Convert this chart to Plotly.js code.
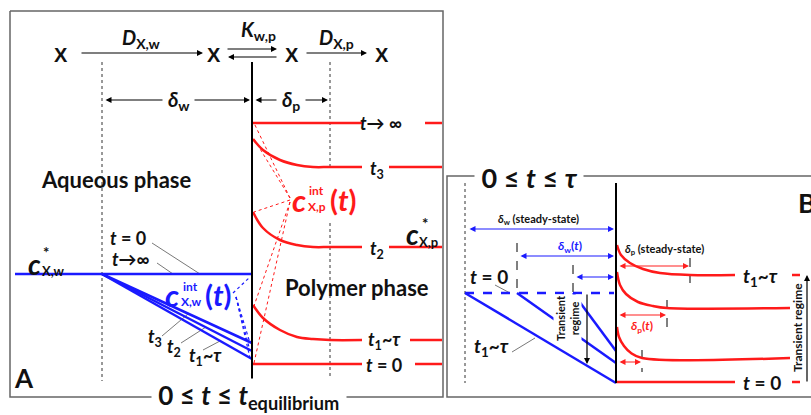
<!DOCTYPE html>
<html><head><meta charset="utf-8">
<script src="https://cdn.plot.ly/plotly-3.0.1.min.js"></script>
<style>html,body{margin:0;padding:0;background:#fff}#chart{width:811px;height:415px}</style>
</head><body><div id="chart"></div>
<script>
// ================= DATA (diagram coordinates) =================
// Frames
const frameAX = [10, 443, 443, 10, 10], frameAY = [11, 11, 397, 397, 11];
const frameBX = [811, 447, 447, 811],   frameBY = [176, 176, 397, 397];

// ---- Panel A ----
const aInterfaceX = [252, 252], aInterfaceY = [62, 381];
const aGuideX = [102, 102, null, 330, 330, null, 330, 330];
const aGuideY = [62, 381, null, 62, 167, null, 223, 381];

// aqueous phase profiles (blue)
const aqBulkX = [15, 252], aqBulkY = [274, 274];            // t = 0 and t→∞
const aqGradX = [102, 252];
const aqGradY = { t3: [274, 343], t2: [274, 351], t1: [274, 359] };
const aqIntDotX = [233, 250, null, 236, 250, null, 236, 250, null, 236, 250];
const aqIntDotY = [293, 277, null, 297, 343, null, 297, 351, null, 297, 358];

// polymer phase profiles (red)
const pInfX = [253, 362], pInfY = [123, 123];
const pCurveX = [253, 263, 280, 297, 313, 330, 362];
const pT3Y = [139, 150, 160, 165, 167, 167, 167];
const pT2Y = [212, 228, 240, 245, 247, 247, 247];
const pT1Y = [305, 318, 330, 337, 339, 340, 340];
const pT0X = [253, 362], pT0Y = [364, 364];
const pTailX = [425, 442, null, 389, 442, null, 389, 442, null, 410, 442, null, 415, 442];
const pTailY = [123, 123, null, 167, 167, null, 247, 247, null, 340, 340, null, 364, 364];
const pIntDotX = [290, 254, null, 290, 254, null, 290, 254, null, 290, 254, null, 290, 254];
const pIntDotY = [198, 123, null, 198, 139, null, 200, 212, null, 202, 306, null, 202, 363];

// leader lines
const aLeadX = [152, 200, null, 157, 173, null, 162, 188, null, 181, 206, null, 203, 220];
const aLeadY = [243, 274, null, 263, 274, null, 336, 314, null, 343, 327, null, 350, 341];

// ---- Panel B ----
const bInterfaceX = [616, 616], bInterfaceY = [183, 383];
const bGuideX = [465, 465], bGuideY = [183, 383];
const bDashBlueX = [465, 614], bDashBlueY = [293, 293];
const bBlueX = [465, 616, null, 517, 616, null, 573, 616];
const bBlueY = [293, 383, null, 293, 363, null, 293, 351];
const bVDashX = [517, 517, null, 573, 573, null, 690, 690, null, 667, 667, null, 642, 642];
const bVDashY = [243, 293, null, 265, 293, null, 258, 283, null, 300, 330, null, 350, 372];
const bC1X = [617, 621, 630, 643, 660, 690, 735], bC1Y = [245, 255, 263, 269, 273, 275, 275];
const bC2X = [617, 620, 626, 638, 653, 667, 790], bC2Y = [272, 285, 294, 302, 306, 308, 308];
const bC3X = [617, 619, 624, 631, 642, 790],      bC3Y = [327, 337, 346, 353, 358, 358];
const bT0X = [616, 735], bT0Y = [382, 382];
const bTailX = [792, 800, null, 792, 800], bTailY = [275, 275, null, 382, 382];
const bLeadX = [495, 510, null, 512, 535], bLeadY = [285, 293, null, 352, 338];

// arrows: [x0, y0, x1, y1, colour, double]
const arrows = [
  [80, 53, 203, 53, '#000', false],
  [226, 49, 277, 49, '#000', false],
  [278, 57, 228, 57, '#000', false],
  [305, 53, 367, 53, '#000', false],
  [104, 100, 250, 100, '#000', true],
  [254, 100, 328, 100, '#000', true],
  [468, 229, 614, 229, '#1a1aff', true],
  [519, 256, 614, 256, '#1a1aff', true],
  [575, 277, 614, 277, '#1a1aff', true],
  [618, 266, 689, 266, '#ff2020', true],
  [618, 315, 666, 315, '#ff2020', true],
  [618, 362, 641, 362, '#ff2020', true],
  [587, 293, 587, 364, '#000', false],
  [807, 383, 807, 275, '#000', false]
];

// ================= BUILD =================
const BLUE = '#1a1aff', RED = '#ff1a1a';
function L(x, y, color, width, dash, shape) {
  return { x, y, type: 'scatter', mode: 'lines', hoverinfo: 'skip',
    line: { color, width, dash: dash || 'solid', shape: shape || 'linear' } };
}
const traces = [
  L(frameAX, frameAY, '#666', 1.5), L(frameBX, frameBY, '#666', 1.5),
  L(aGuideX, aGuideY, '#333', 1, 'dot'),
  L(aLeadX, aLeadY, '#555', 0.8),
  L(aqBulkX, aqBulkY, BLUE, 2.5),
  L(aqGradX, aqGradY.t3, BLUE, 2.5), L(aqGradX, aqGradY.t2, BLUE, 2.5), L(aqGradX, aqGradY.t1, BLUE, 2.5),
  L(aqIntDotX, aqIntDotY, BLUE, 1.2, 'dot'),
  L(pIntDotX, pIntDotY, RED, 1, 'dot'),
  L(pInfX, pInfY, RED, 2.5),
  L(pCurveX, pT3Y, RED, 2.5, 'solid', 'spline'),
  L(pCurveX, pT2Y, RED, 2.5, 'solid', 'spline'),
  L(pCurveX, pT1Y, RED, 2.5, 'solid', 'spline'),
  L(pT0X, pT0Y, RED, 2.5),
  L(pTailX, pTailY, RED, 2.5),
  L(aInterfaceX, aInterfaceY, '#000', 2),
  // panel B
  L(bGuideX, bGuideY, '#333', 1, 'dot'),
  L(bVDashX, bVDashY, '#000', 1, 'dash'),
  L(bLeadX, bLeadY, '#555', 0.8),
  L(bDashBlueX, bDashBlueY, BLUE, 2.5, 'dash'),
  L(bBlueX, bBlueY, BLUE, 2.5),
  L(bC1X, bC1Y, RED, 2.5, 'solid', 'spline'),
  L(bC2X, bC2Y, RED, 2.5, 'solid', 'spline'),
  L(bC3X, bC3Y, RED, 2.5, 'solid', 'spline'),
  L(bT0X, bT0Y, RED, 2.5),
  L(bTailX, bTailY, RED, 2.5),
  L(bInterfaceX, bInterfaceY, '#000', 2)
];

const F = 'Lato, "Open Sans", sans-serif';
function T(x, y, text, size, color, extra) {
  return Object.assign({ x, y, xref: 'x', yref: 'y', text: '<b>' + text + '</b>', showarrow: false,
    font: { family: F, size, color: color || '#111' }, xanchor: 'center', yanchor: 'middle', borderpad: 0 }, extra || {});
}
const W = { bgcolor: '#fff' };
const XF = { font: { family: 'Liberation Sans, Arial', size: 20, color: '#111' } };
const ann = arrows.map(a => ({
  x: a[2], y: a[3], ax: a[0], ay: a[1], xref: 'x', yref: 'y', axref: 'x', ayref: 'y', text: '',
  showarrow: true, arrowhead: 2, arrowsize: 1, arrowwidth: 1.2, arrowcolor: a[4],
  arrowside: a[5] ? 'end+start' : 'end', startarrowhead: 2, startarrowsize: 1, standoff: 0, startstandoff: 0
}));
ann.push(
  // Panel A header
  T(61, 55, 'X', 20, '#111', XF),
  T(214, 55, 'X', 20, '#111', XF),
  T(292, 55, 'X', 20, '#111', XF),
  T(382, 55, 'X', 20, '#111', XF),
  T(141, 38, '<i>D</i><sub>X,w</sub>', 20),
  T(258, 30, '<i>K</i><sub>w,p</sub>', 20),
  T(336, 38, '<i>D</i><sub>X,p</sub>', 20),
  T(178, 100, ' <i>δ</i><sub>w</sub> ', 20, '#111', W),
  T(291, 100, ' <i>δ</i><sub>p</sub> ', 20, '#111', W),
  // polymer labels
  T(381, 123, '<i>t</i>→ ∞', 18),
  T(377, 169, '<i>t</i><sub>3</sub>', 18),
  T(377, 249, '<i>t</i><sub>2</sub>', 18),
  T(384, 340, '<i>t</i><sub>1</sub>~<i>τ</i>', 18),
  T(384, 365, '<i>t</i> = 0', 18),
  T(412, 234, '<i>c</i>', 28),
  T(425, 223, '*', 15),
  T(428, 242, 'X,p', 13),
  T(116, 179, 'Aqueous phase', 22),
  T(357, 287, 'Polymer phase', 22),
  // aqueous labels
  T(34, 264, '<i>c</i>', 28),
  T(46, 252, '*', 15),
  T(53, 271, 'X,w', 13),
  T(128, 238, '<i>t</i> = 0', 18),
  T(131, 259, '<i>t</i>→∞', 18),
  T(155, 337, '<i>t</i><sub>3</sub>', 18),
  T(174, 347, '<i>t</i><sub>2</sub>', 18),
  T(205, 356, '<i>t</i><sub>1</sub>~<i>τ</i>', 18),
  // interfacial concentrations
  T(172, 295, '<i>c</i>', 31, BLUE),
  T(190, 286, 'int', 12, BLUE),
  T(191, 301, 'X,w', 12, BLUE),
  T(218, 294, '(<i>t</i>)', 29, BLUE),
  T(299, 200, '<i>c</i>', 31, RED, W),
  T(316, 190, 'int', 12, RED, W),
  T(317, 206, 'X,p', 12, RED, W),
  T(343, 199, '(<i>t</i>)', 29, RED, W),
  T(24, 378, 'A', 26, '#111'),
  T(249, 396, ' 0 ≤ <i>t</i> ≤ <i>t</i><sub>equilibrium</sub> ', 26, '#111', W),
  // Panel B
  T(529, 177, ' 0 ≤ <i>t</i> ≤ <i>τ</i> ', 27, '#111', W),
  T(797, 202, 'B', 27, '#111', { xanchor: 'left' }),
  T(538, 219, '<i>δ</i><sub>w</sub> (steady-state)', 11),
  T(570, 246, '<i>δ</i><sub>w</sub>(<i>t</i>)', 12, BLUE),
  T(664, 249, '<i>δ</i><sub>p</sub> (steady-state)', 11),
  T(642, 326, '<i>δ</i><sub>p</sub>(<i>t</i>)', 12, RED),
  T(489, 276, '<i>t</i> = 0', 19),
  T(491, 347, '<i>t</i><sub>1</sub>~<i>τ</i>', 19),
  T(760, 277, '<i>t</i><sub>1</sub>~<i>τ</i>', 19),
  T(762, 382, '<i>t</i> = 0', 19),
  T(567, 318, 'Transient<br>regime', 11, '#111', { textangle: -90, bgcolor: '#fff' }),
  T(797, 328, 'Transient regime', 12, '#111', { textangle: -90 })
);

const layout = {
  width: 811, height: 415, margin: { l: 0, r: 0, t: 0, b: 0 },
  paper_bgcolor: '#fff', plot_bgcolor: '#fff', showlegend: false,
  xaxis: { range: [0, 811], visible: false, fixedrange: true },
  yaxis: { range: [415, 0], visible: false, fixedrange: true },
  annotations: ann
};
Plotly.newPlot('chart', traces, layout, { staticPlot: true, displayModeBar: false });
</script></body></html>
